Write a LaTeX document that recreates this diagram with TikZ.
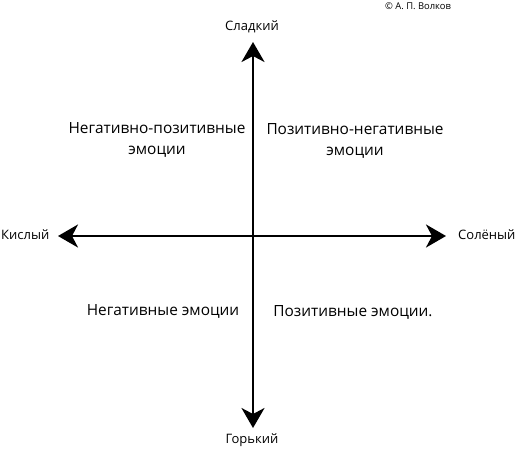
\documentclass[tikz,border=0pt]{standalone}
\usepackage{fontspec}
\setmainfont{Open Sans}
\usetikzlibrary{arrows.meta}
\begin{document}
\begin{tikzpicture}[x=1pt,y=-1pt,
  axis/.style={line width=2.4pt,-{Stealth[length=20pt,width=23pt,inset=6pt]}},
  lbl/.style={font=\fontsize{13}{15}\selectfont,inner sep=0pt},
  quad/.style={font=\fontsize{15.4}{20.5}\selectfont,align=center,inner sep=0pt}]
\useasboundingbox (0,0) rectangle (518,467);
\coordinate (O) at (253,236);
\coordinate (T) at (253,42);
\coordinate (B) at (253,428);
\coordinate (L) at (58,236);
\coordinate (R) at (446,236);
\draw[axis] (O) -- (T);
\draw[axis] (O) -- (B);
\draw[axis] (O) -- (L);
\draw[axis] (O) -- (R);
\node[lbl] (sl) at (252,27) {Сладкий};
\node[lbl] (go) at (252,440) {Горький};
\node[lbl,anchor=west] (ki) at (1,235) {Кислый};
\node[lbl,anchor=west] (so) at (458,235) {Солёный};
\node[font=\fontsize{9.4}{10}\selectfont,inner sep=0pt] (cp) at (418,6) {© А. П. Волков};
\node[quad] (np) at (157,140) {Негативно-позитивные\\эмоции};
\node[quad] (pn) at (355,141) {Позитивно-негативные\\эмоции};
\node[quad] (ne) at (163,311) {Негативные эмоции};
\node[quad] (po) at (353,312) {Позитивные эмоции.};
\end{tikzpicture}
\end{document}
